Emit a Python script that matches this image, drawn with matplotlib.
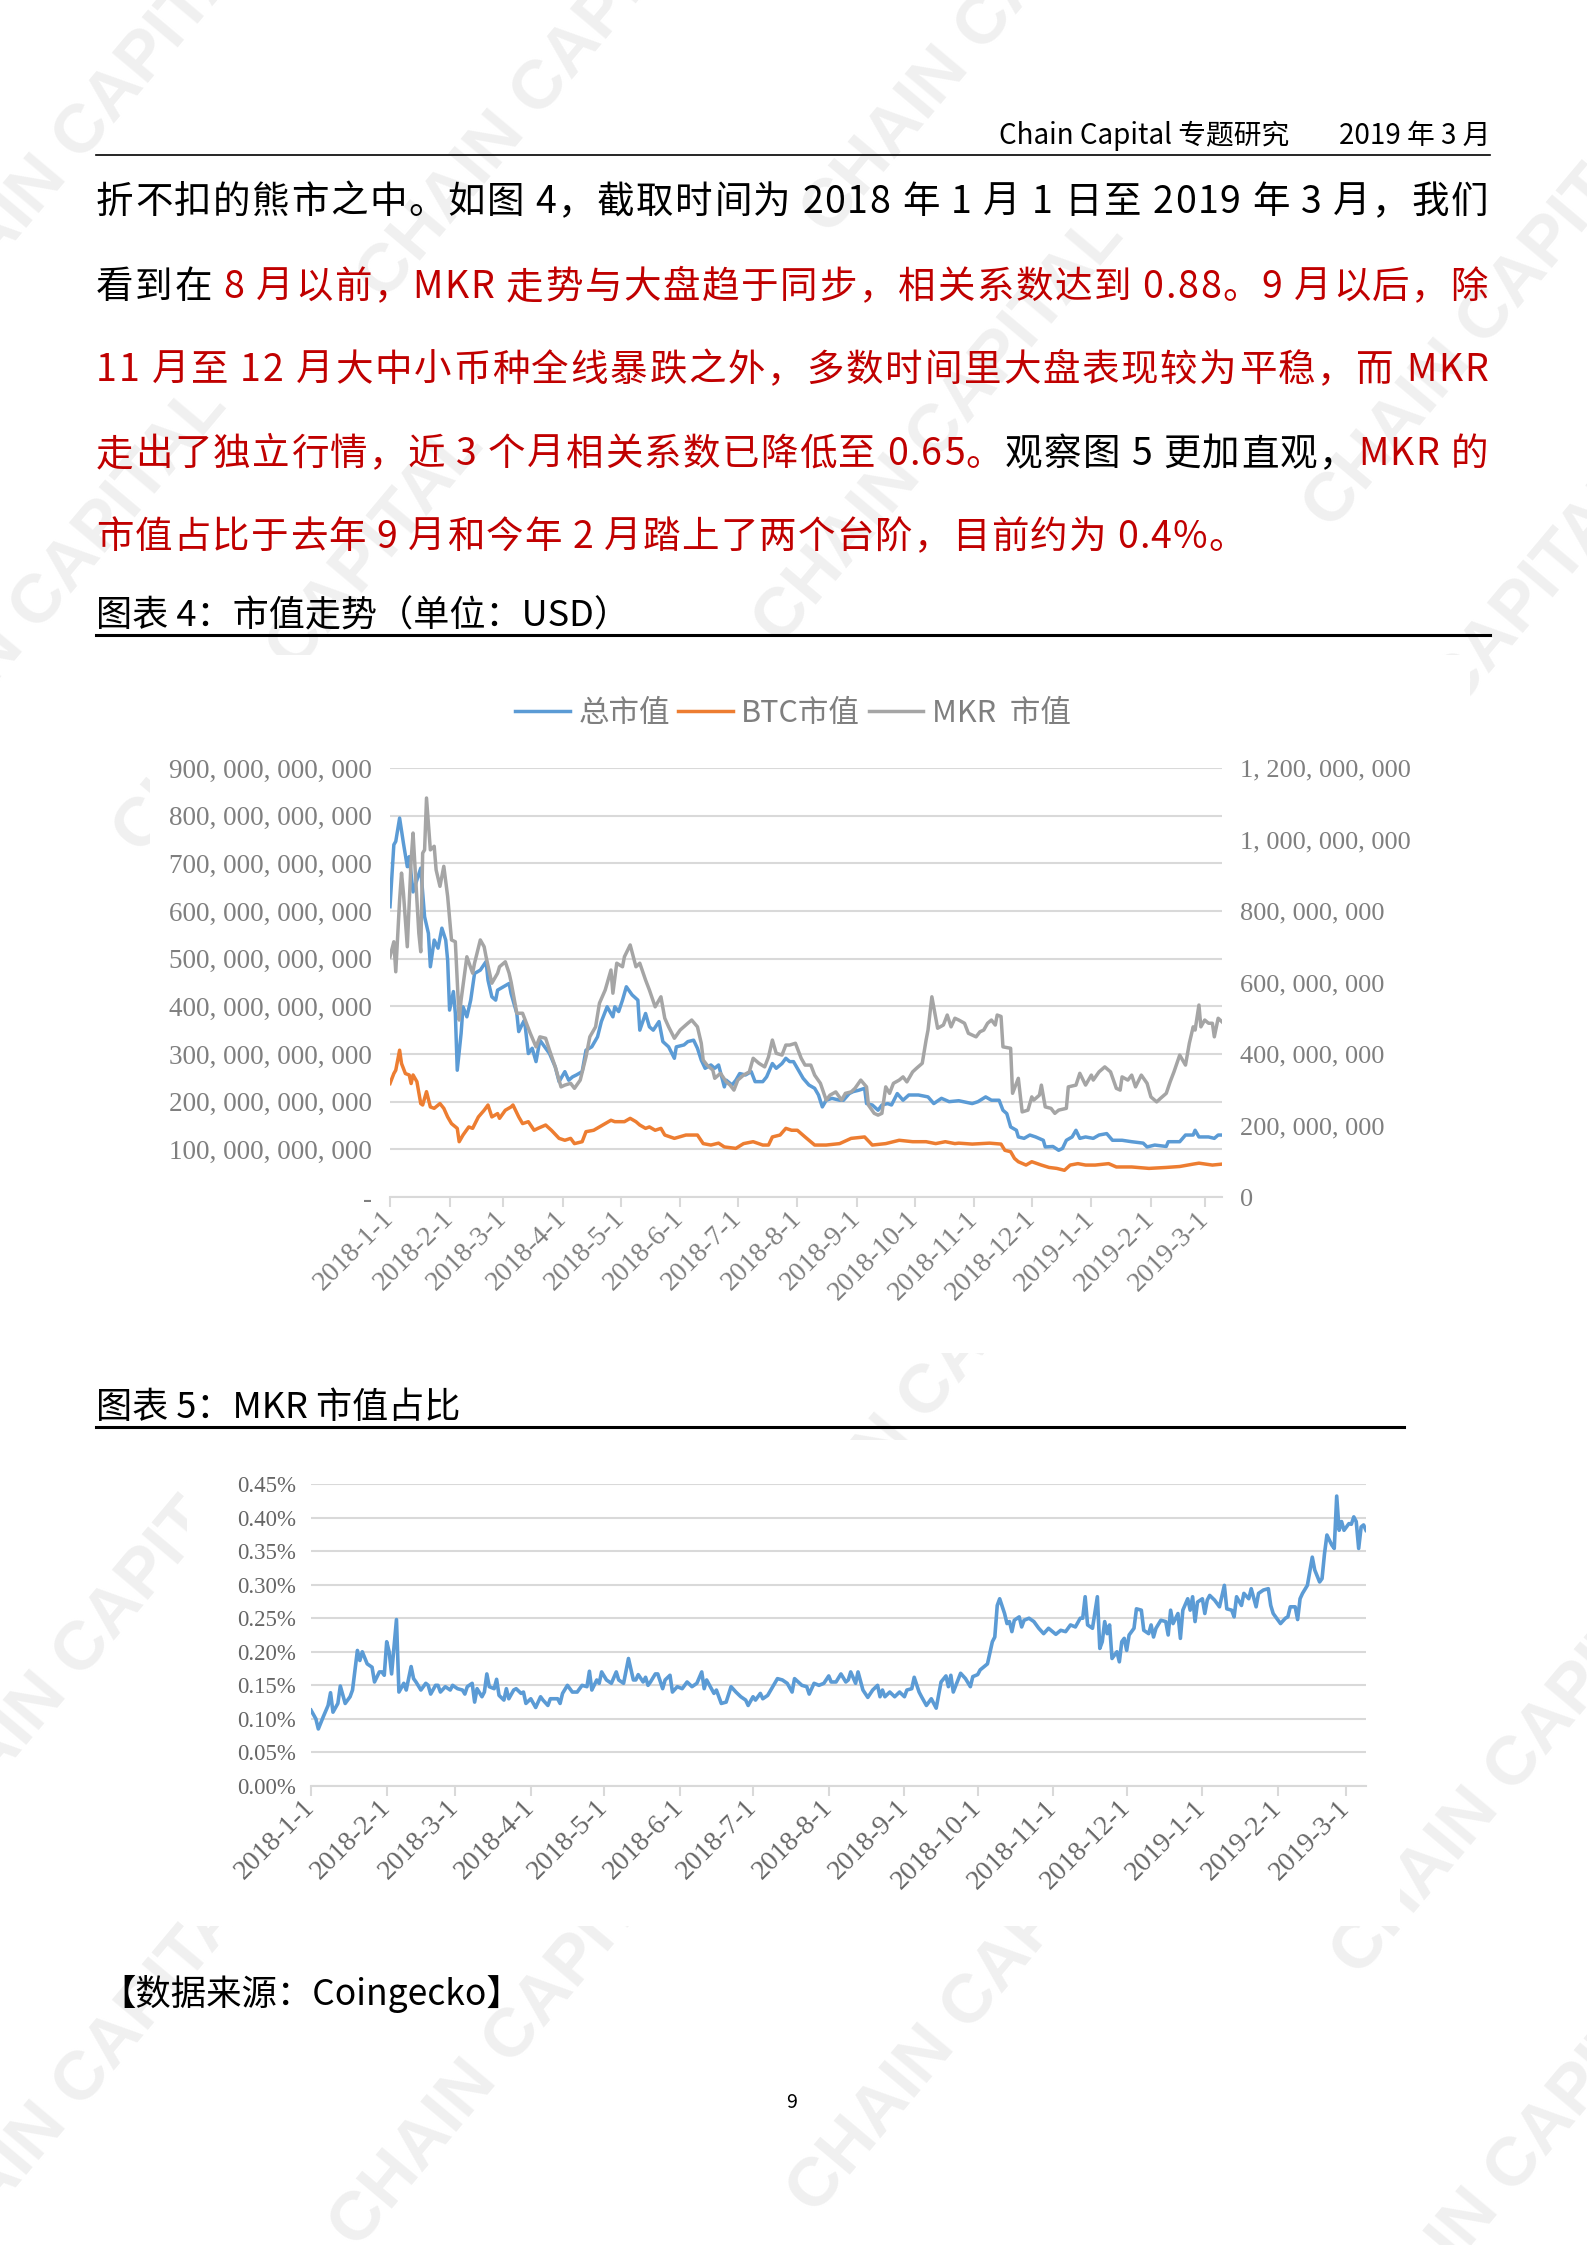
import numpy as np
import matplotlib
matplotlib.use('Agg')
import matplotlib.pyplot as plt
import matplotlib.dates as mdates
from matplotlib.lines import Line2D
from matplotlib.patches import Rectangle
from matplotlib.ticker import FixedLocator, FuncFormatter

# ---- data (day offset from 2018-01-01, value) ----
total_cap_bn = [(0, 609), (2, 739), (3, 746), (5, 795), (7, 742), (9, 693), (10, 714), (12, 640), (14, 665),
                (16, 690), (18, 588), (20, 553), (21, 483), (23, 539), (25, 522), (27, 564), (29, 539), (30, 497),
                (31, 392), (33, 431), (34, 385), (35, 266), (37, 343), (38, 399), (40, 378), (42, 413), (44, 469),
                (47, 476), (50, 494), (51, 455), (53, 420), (55, 413), (56, 434), (59, 441), (62, 448), (63, 427),
                (66, 385), (67, 347), (69, 364), (70, 371), (72, 301), (74, 312), (76, 284), (78, 329), (81, 312),
                (83, 301), (86, 273), (88, 242), (89, 249), (91, 263), (93, 245), (95, 252), (97, 256), (100, 263),
                (102, 308), (105, 315), (108, 336), (110, 368), (113, 399), (116, 378), (117, 399), (119, 389),
                (121, 413), (123, 441), (126, 424), (129, 413), (130, 350), (133, 385), (135, 357), (137, 350),
                (140, 368), (142, 326), (145, 315), (148, 291), (149, 315), (153, 319), (155, 326), (158, 329),
                (160, 312), (162, 287), (164, 270), (167, 277), (169, 270), (171, 277), (174, 231), (175, 245),
                (178, 235), (180, 245), (182, 259), (185, 256), (188, 263), (190, 242), (194, 242), (196, 252),
                (199, 280), (201, 270), (204, 280), (206, 291), (208, 284), (210, 284), (213, 263), (215, 249),
                (218, 235), (221, 228), (223, 214), (225, 189), (227, 203), (230, 207), (234, 203), (236, 203),
                (239, 217), (241, 221), (244, 224), (247, 228), (248, 196), (251, 193), (254, 182), (256, 193),
                (259, 196), (261, 193), (264, 217), (267, 203), (270, 214), (275, 214), (280, 210), (283, 196),
                (287, 207), (291, 200), (296, 202), (303, 196), (306, 200), (310, 210), (313, 203), (317, 203),
                (319, 182), (321, 175), (323, 147), (326, 140), (327, 126), (330, 123), (333, 130), (336, 126),
                (340, 119), (341, 105), (345, 106), (348, 98), (350, 102), (352, 119), (355, 126), (357, 140),
                (359, 123), (362, 126), (366, 123), (369, 130), (373, 133), (376, 119), (381, 119), (386, 116),
                (392, 113), (394, 105), (398, 109), (404, 106), (405, 116), (411, 116), (414, 130), (418, 130),
                (419, 140), (421, 126), (426, 126), (429, 123), (431, 130), (433, 130)]

btc_cap_bn = [(0, 238), (2, 259), (3, 266), (5, 308), (6, 280), (8, 259), (10, 256), (11, 238), (12, 256),
              (14, 242), (16, 196), (17, 193), (19, 221), (21, 189), (23, 186), (26, 196), (28, 186), (30, 168),
              (32, 154), (35, 144), (36, 116), (38, 130), (41, 147), (43, 144), (46, 168), (49, 182), (51, 193),
              (53, 168), (56, 175), (57, 165), (60, 182), (63, 189), (64, 193), (67, 168), (69, 154), (72, 158),
              (75, 140), (77, 144), (81, 151), (84, 140), (88, 123), (91, 119), (94, 123), (96, 112), (100, 116),
              (102, 137), (106, 140), (109, 147), (112, 154), (115, 161), (117, 158), (120, 158), (122, 158),
              (125, 165), (128, 158), (130, 151), (133, 144), (135, 147), (138, 140), (141, 144), (143, 130),
              (148, 123), (154, 130), (160, 130), (163, 112), (167, 109), (171, 113), (174, 105), (180, 102),
              (184, 112), (189, 116), (194, 109), (197, 109), (199, 126), (203, 130), (206, 144), (209, 140),
              (212, 140), (216, 126), (221, 109), (227, 109), (234, 112), (240, 123), (247, 126), (251, 109),
              (258, 112), (265, 119), (272, 116), (279, 116), (284, 112), (289, 116), (294, 112), (296, 113),
              (303, 111), (312, 113), (318, 111), (320, 98), (323, 95), (325, 81), (327, 74), (331, 67), (334, 74),
              (339, 67), (343, 62), (347, 60), (351, 56), (354, 67), (358, 70), (362, 67), (367, 67), (374, 70),
              (378, 63), (386, 63), (395, 60), (404, 62), (411, 64), (418, 69), (421, 71), (428, 67), (433, 69)]

mkr_cap_mn = [(0, 672), (2, 714), (3, 630), (5, 831), (6, 906), (7, 850), (9, 700), (11, 943), (12, 1018),
              (14, 831), (15, 738), (16, 686), (17, 962), (18, 971), (19, 1116), (21, 971), (23, 981), (24, 915),
              (26, 869), (28, 925), (30, 841), (32, 719), (34, 714), (36, 495), (37, 551), (40, 672), (43, 626),
              (44, 654), (47, 719), (49, 700), (50, 672), (53, 598), (56, 626), (57, 644), (60, 658), (62, 626),
              (63, 602), (66, 514), (69, 514), (70, 500), (73, 458), (76, 420), (78, 448), (81, 444), (83, 411),
              (86, 364), (89, 308), (91, 313), (94, 318), (96, 304), (99, 327), (102, 392), (104, 448), (107, 476),
              (109, 542), (112, 579), (115, 635), (116, 570), (118, 654), (121, 644), (122, 672), (125, 705),
              (128, 644), (130, 654), (133, 607), (135, 579), (138, 532), (141, 560), (143, 500), (145, 476),
              (148, 444), (151, 467), (155, 486), (157, 495), (160, 476), (162, 430), (163, 383), (165, 369),
              (168, 355), (169, 332), (172, 346), (175, 322), (177, 313), (179, 299), (181, 327), (184, 341),
              (187, 350), (189, 388), (192, 374), (195, 364), (197, 392), (199, 439), (201, 402), (204, 397),
              (206, 425), (208, 425), (211, 430), (214, 388), (216, 369), (219, 369), (221, 341), (224, 318),
              (227, 271), (229, 285), (232, 294), (235, 271), (237, 290), (240, 294), (242, 304), (245, 327),
              (248, 308), (249, 257), (252, 234), (254, 229), (256, 234), (258, 308), (260, 290), (262, 318),
              (265, 327), (267, 336), (269, 322), (272, 350), (274, 360), (277, 374), (279, 439), (280, 467),
              (282, 560), (285, 472), (288, 481), (290, 509), (292, 476), (294, 500), (296, 495), (299, 486),
              (301, 458), (305, 448), (307, 462), (309, 467), (311, 486), (313, 495), (315, 481), (316, 509),
              (318, 505), (319, 420), (323, 416), (324, 290), (327, 332), (329, 238), (332, 243), (334, 280),
              (335, 271), (338, 285), (339, 313), (341, 252), (344, 248), (346, 234), (348, 243), (352, 248),
              (353, 308), (357, 313), (359, 346), (362, 313), (365, 341), (366, 327), (369, 350), (372, 364),
              (375, 350), (378, 304), (380, 299), (381, 336), (384, 327), (386, 341), (388, 308), (391, 341),
              (394, 318), (396, 280), (399, 266), (401, 276), (404, 290), (406, 322), (408, 350), (411, 397),
              (414, 369), (416, 430), (418, 476), (419, 467), (421, 537), (422, 476), (424, 495), (426, 486),
              (428, 486), (429, 448), (431, 500), (433, 490)]

mkr_share_pct = [(0, .113), (2, .100), (3, .085), (5, .103), (7, .120), (8, .139), (9, .110), (11, .123),
                 (12, .149), (14, .123), (16, .133), (17, .143), (19, .202), (20, .187), (21, .200), (23, .182),
                 (25, .177), (26, .155), (28, .170), (29, .170), (30, .165), (31, .215), (32, .200), (33, .167),
                 (35, .248), (36, .140), (38, .153), (39, .143), (41, .178), (42, .160), (43, .155), (45, .143),
                 (47, .153), (48, .150), (49, .137), (51, .150), (52, .150), (53, .140), (55, .148), (57, .143),
                 (58, .150), (60, .145), (62, .143), (63, .137), (64, .148), (66, .153), (67, .125), (68, .145),
                 (70, .133), (71, .140), (72, .167), (73, .148), (75, .145), (76, .159), (77, .135), (79, .128),
                 (80, .145), (81, .130), (83, .143), (84, .145), (86, .138), (87, .140), (88, .123), (90, .130),
                 (92, .117), (94, .133), (95, .128), (97, .120), (98, .130), (101, .130), (102, .123), (103, .138),
                 (105, .150), (107, .140), (109, .140), (111, .150), (113, .148), (114, .171), (115, .143),
                 (117, .158), (118, .153), (119, .170), (121, .158), (123, .153), (125, .170), (126, .158),
                 (128, .153), (130, .190), (132, .158), (133, .158), (134, .166), (136, .155), (137, .162),
                 (138, .150), (139, .155), (141, .167), (142, .167), (144, .145), (145, .158), (147, .165),
                 (148, .140), (150, .148), (152, .145), (154, .155), (156, .148), (158, .153), (160, .170),
                 (161, .145), (162, .158), (165, .138), (166, .143), (168, .123), (170, .125), (172, .148),
                 (174, .140), (176, .133), (178, .128), (179, .120), (181, .133), (182, .128), (184, .138),
                 (185, .130), (187, .135), (191, .160), (193, .158), (195, .153), (197, .140), (198, .160),
                 (201, .150), (203, .148), (204, .137), (206, .153), (208, .150), (210, .153), (212, .164),
                 (213, .155), (215, .155), (217, .167), (219, .155), (220, .158), (221, .170), (223, .153),
                 (224, .170), (226, .143), (228, .132), (230, .143), (232, .150), (233, .133), (234, .143),
                 (235, .133), (237, .140), (239, .133), (241, .140), (243, .133), (244, .143), (246, .145),
                 (247, .162), (249, .140), (250, .133), (252, .120), (254, .130), (256, .116), (258, .155),
                 (260, .164), (261, .148), (262, .165), (263, .140), (266, .168), (268, .160), (270, .148),
                 (271, .163), (273, .166), (274, .173), (277, .182), (279, .215), (280, .222), (281, .269),
                 (282, .279), (284, .257), (285, .242), (286, .245), (287, .230), (288, .247), (290, .252),
                 (291, .237), (292, .247), (294, .250), (296, .245), (298, .235), (300, .227), (302, .235),
                 (305, .226), (307, .232), (309, .230), (311, .240), (313, .237), (315, .250), (316, .250),
                 (317, .282), (318, .240), (320, .235), (322, .282), (323, .205), (324, .215), (325, .245),
                 (326, .227), (327, .240), (328, .190), (330, .200), (331, .185), (332, .215), (333, .220),
                 (334, .202), (335, .225), (337, .235), (338, .264), (340, .262), (341, .232), (343, .227),
                 (344, .240), (345, .222), (346, .235), (348, .247), (350, .245), (351, .225), (352, .262),
                 (353, .242), (355, .257), (356, .220), (357, .262), (359, .279), (360, .262), (361, .282),
                 (362, .245), (363, .274), (365, .279), (366, .257), (367, .277), (368, .284), (370, .277),
                 (372, .267), (374, .299), (375, .264), (377, .262), (378, .252), (379, .282), (381, .269),
                 (382, .287), (384, .279), (385, .294), (387, .267), (388, .287), (390, .292), (392, .294),
                 (393, .269), (394, .257), (397, .242), (399, .250), (400, .252), (401, .267), (403, .267),
                 (404, .248), (405, .279), (406, .287), (408, .299), (410, .341), (411, .322), (413, .304),
                 (414, .309), (415, .346), (416, .374), (418, .359), (419, .354), (420, .432), (421, .381),
                 (422, .394), (423, .381), (425, .391), (426, .390), (427, .401), (428, .394), (429, .354),
                 (430, .386), (431, .389), (432, .381)]

legend_labels = ['总市值', 'BTC市值', 'MKR  市值']

body_lines = [
    [('折不扣的熊市之中。如图 4，截取时间为 2018 年 1 月 1 日至 2019 年 3 月，我们', 'k')],
    [('看到在 ', 'k'), ('8 月以前，MKR 走势与大盘趋于同步，相关系数达到 0.88。9 月以后，除', 'r')],
    [('11 月至 12 月大中小币种全线暴跌之外，多数时间里大盘表现较为平稳，而 MKR', 'r')],
    [('走出了独立行情，近 3 个月相关系数已降低至 0.65。', 'r'), ('观察图 5 更加直观，', 'k'), ('MKR 的', 'r')],
    [('市值占比于去年 9 月和今年 2 月踏上了两个台阶，目前约为 0.4%。', 'r')],
]

START = np.datetime64('2018-01-01')

W, H = 1587, 2245
CJK = ['Noto Sans CJK SC', 'DejaVu Sans']
NUM = ['Liberation Serif', 'DejaVu Serif']
RED = '#C00000'
GRID = '#d9d9d9'


def fx(x):
    return x / W


def fy(y):
    return 1 - y / H


def split(pairs):
    d, v = zip(*pairs)
    return START + np.array(d).astype('timedelta64[D]'), np.array(v, dtype=float)


fig = plt.figure(figsize=(W / 100, H / 100), dpi=100)
fig.patch.set_facecolor('white')
renderer = fig.canvas.get_renderer()

# faint watermarks (page background)
marks = [(86, 130), (544, 86), (1490, 315), (940, 430), (43, 600), (988, 21), (1461, 680), (931, 1390),
         (86, 1647), (1518, 1762), (86, 2077), (516, 2034), (974, 2000), (1518, 2163), (300, 640)]
for mx, my in marks:
    fig.text(fx(mx), fy(my), 'CHAIN CAPITAL', fontsize=50, fontweight='bold', color='#f0f0f0',
             rotation=50, ha='center', va='center', family=['Liberation Sans', 'DejaVu Sans'], zorder=-2)

# the chart images are opaque
for (l, t, r, b) in [(150, 655, 1470, 1353), (187, 1440, 1400, 1926)]:
    fig.patches.append(Rectangle((fx(l), fy(b)), (r - l) / W, (b - t) / H, transform=fig.transFigure,
                                 facecolor='white', edgecolor='none', zorder=-1))

# ---- page text ----
_adv = {}


def advance(ch, size):
    key = (ch, size)
    if key not in _adv:
        t1 = fig.text(0, 0, '|' + ch + '|', fontsize=size, family=CJK)
        t2 = fig.text(0, 0, '||', fontsize=size, family=CJK)
        _adv[key] = t1.get_window_extent(renderer).width - t2.get_window_extent(renderer).width
        t1.remove()
        t2.remove()
    return _adv[key]


def text_line(runs, base, size, x0=96, x1=1488):
    chars = [(c, RED if col == 'r' else 'black') for s, col in runs for c in s]
    widths = [advance(c, size) for c, _ in chars]
    gap = ((x1 - x0) - sum(widths)) / (len(chars) - 1)
    x = x0
    for (c, col), w in zip(chars, widths):
        if c != ' ':
            fig.text(fx(x), fy(base), c, fontsize=size, family=CJK, color=col,
                     ha='left', va='baseline', zorder=2)
        x += w + gap


fig.text(fx(1289), fy(144), 'Chain Capital 专题研究', fontsize=20, family=CJK, ha='right', va='baseline', zorder=2)
fig.text(fx(1490), fy(144), '2019 年 3 月', fontsize=20, family=CJK, ha='right', va='baseline', zorder=2)
fig.add_artist(Line2D([fx(96), fx(1490)], [fy(155), fy(155)], color='black', lw=1.2, zorder=2))

line_ends = [1488, 1488, 1488, 1488, 1246]
for i, runs in enumerate(body_lines):
    text_line(runs, [213, 298, 381, 465, 548][i], 27, x1=line_ends[i])

fig.text(fx(96), fy(626), '图表 4：市值走势（单位：USD）', fontsize=26, family=CJK, ha='left', va='baseline', zorder=2)
fig.add_artist(Line2D([fx(96), fx(1490)], [fy(635), fy(635)], color='black', lw=2.2, zorder=2))
fig.text(fx(96), fy(1418), '图表 5：MKR 市值占比', fontsize=26, family=CJK, ha='left', va='baseline', zorder=2)
fig.add_artist(Line2D([fx(96), fx(1404)], [fy(1427), fy(1427)], color='black', lw=2.2, zorder=2))
fig.text(fx(100), fy(2005), '【数据来源：Coingecko】', fontsize=25.5, family=CJK, ha='left', va='baseline', zorder=2)
fig.text(fx(792), fy(2108), '9', fontsize=14, family=CJK, ha='center', va='baseline', zorder=2)


def month_fmt(v, pos):
    d = mdates.num2date(v)
    return f'{d.year}-{d.month}-1'


def style_axes(ax, xlabel_size, label_color):
    ax.set_facecolor('none')
    for s in ['top', 'left', 'right']:
        ax.spines[s].set_visible(False)
    ax.spines['bottom'].set_color(GRID)
    ax.spines['bottom'].set_linewidth(1.5)
    ax.yaxis.grid(True, color=GRID, lw=1.5)
    ax.set_axisbelow(True)
    ax.xaxis.set_major_locator(mdates.MonthLocator(bymonthday=1))
    ax.xaxis.set_major_formatter(FuncFormatter(month_fmt))
    ax.tick_params(axis='x', direction='out', length=7, width=1.5, color=GRID, pad=6,
                   labelsize=xlabel_size, labelcolor=label_color)
    ax.tick_params(axis='y', length=0, labelcolor=label_color)
    for lab in ax.get_xticklabels():
        lab.set_rotation(45)
        lab.set_ha('right')
        lab.set_va('center')
        lab.set_rotation_mode('anchor')
        lab.set_family(NUM)


# ---- chart 1: market caps ----
ax1 = fig.add_axes([fx(390), fy(1197), (1222 - 390) / W, (1197 - 768) / H])
ax1.set_zorder(3)
d, v = split(total_cap_bn)
ax1.plot(d, v * 1e9, color='#5B9BD5', lw=2.5)
d, v = split(btc_cap_bn)
ax1.plot(d, v * 1e9, color='#ED7D31', lw=2.5)
ax1.set_ylim(0, 900e9)
ax1.yaxis.set_major_locator(FixedLocator(np.arange(0, 901e9, 100e9)))
ax1.yaxis.set_major_formatter(FuncFormatter(
    lambda y, p: '-' if y == 0 else f'{int(round(y)):,}'.replace(',', ', ')))
ax1.set_xlim(START, START + np.timedelta64(433, 'D'))
style_axes(ax1, 20, '#7f7f7f')
ax1.tick_params(axis='y', labelsize=19.5, pad=13)
for lab in ax1.get_yticklabels():
    lab.set_family(NUM)

ax2 = ax1.twinx()
ax2.set_zorder(4)
d, v = split(mkr_cap_mn)
ax2.plot(d, v * 1e6, color='#A5A5A5', lw=2.5)
ax2.set_ylim(0, 1200e6)
ax2.yaxis.set_major_locator(FixedLocator(np.arange(0, 1201e6, 200e6)))
ax2.yaxis.set_major_formatter(FuncFormatter(
    lambda y, p: '0' if y == 0 else f'{int(round(y)):,}'.replace(',', ', ')))
for s in ['top', 'left', 'right', 'bottom']:
    ax2.spines[s].set_visible(False)
ax2.tick_params(axis='y', length=0, labelsize=19, pad=13, labelcolor='#7f7f7f')
for lab in ax2.get_yticklabels():
    lab.set_family(NUM)
ax2.set_facecolor('none')

handles = [Line2D([], [], color=c, lw=2.5) for c in ['#5B9BD5', '#ED7D31', '#A5A5A5']]
leg = fig.legend(handles, legend_labels, loc='center', bbox_to_anchor=(fx(793), fy(713)), ncol=3,
                 frameon=False, prop={'family': CJK, 'size': 22}, handlelength=1.78, handletextpad=0.28,
                 columnspacing=0.28)
for t in leg.get_texts():
    t.set_color('#7f7f7f')

# ---- chart 2: MKR share ----
ax3 = fig.add_axes([fx(311), fy(1786), (1366 - 311) / W, (1786 - 1484) / H])
ax3.set_zorder(3)
d, v = split(mkr_share_pct)
ax3.plot(d, v, color='#5B9BD5', lw=2.6)
ax3.set_ylim(0, 0.45)
ax3.yaxis.set_major_locator(FixedLocator(np.arange(0, 0.451, 0.05)))
ax3.yaxis.set_major_formatter(FuncFormatter(lambda y, p: f'{y:.2f}%'))
ax3.set_xlim(START, START + np.timedelta64(432, 'D'))
style_axes(ax3, 20, '#666666')
ax3.tick_params(axis='y', labelsize=16.5, pad=11)
for lab in ax3.get_yticklabels():
    lab.set_family(NUM)

fig.savefig('out.png', dpi=100, facecolor='white')
